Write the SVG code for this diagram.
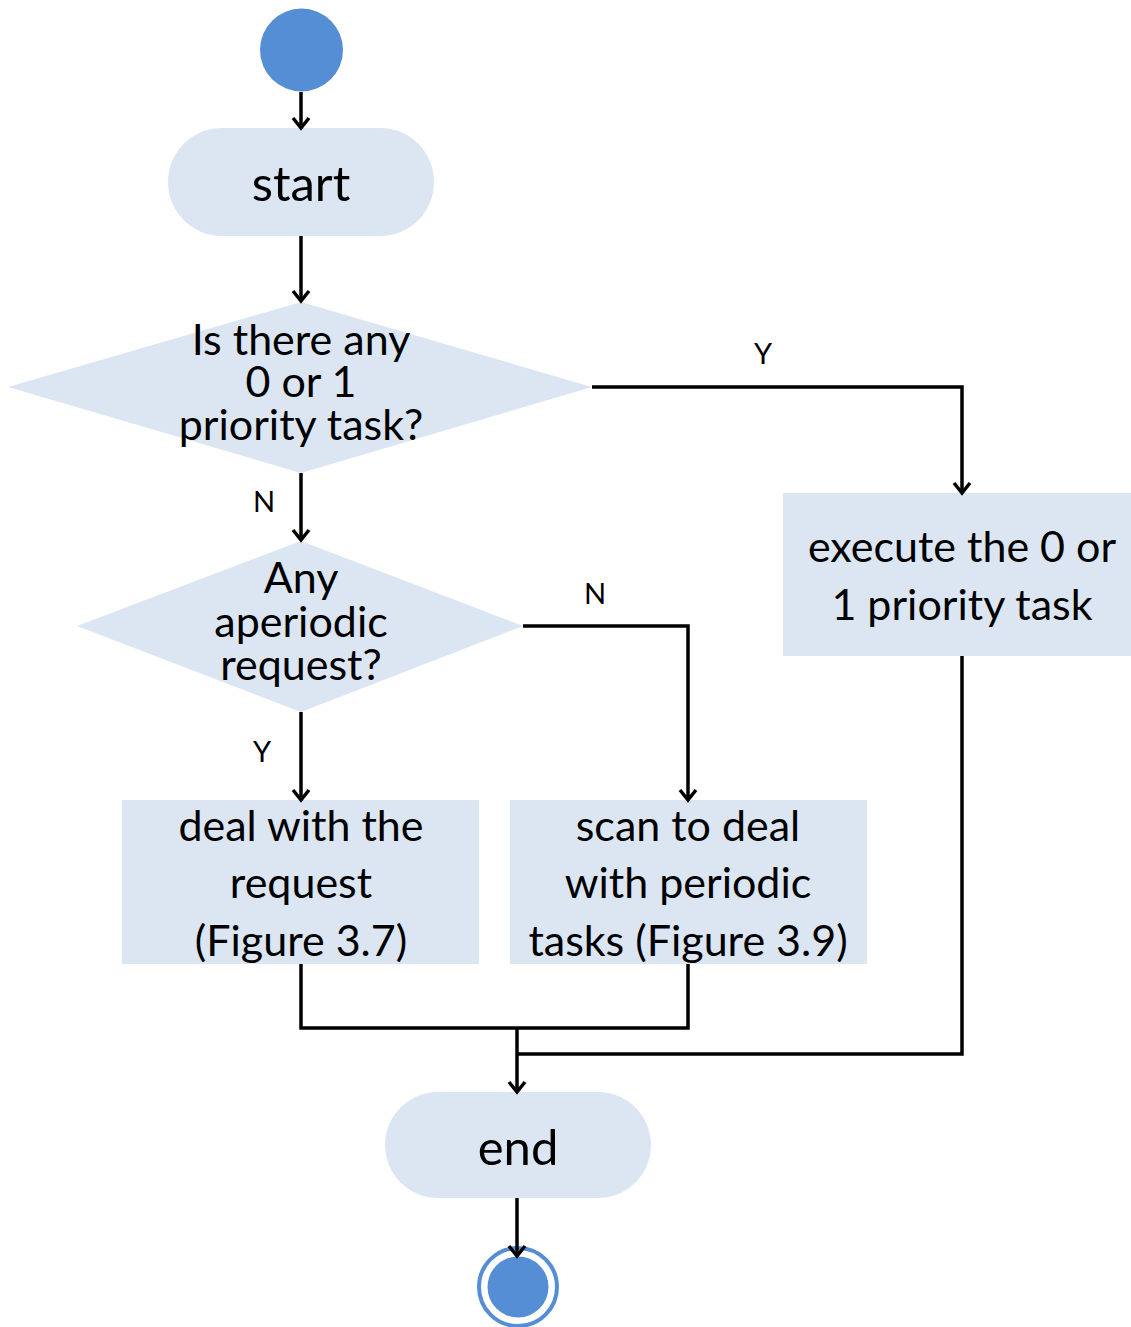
<svg xmlns="http://www.w3.org/2000/svg" width="1131" height="1327" viewBox="0 0 1131 1327">
  <defs>
    <marker id="arrow" viewBox="0 0 20 20" refX="17" refY="10" markerWidth="20" markerHeight="20" markerUnits="userSpaceOnUse" orient="auto">
      <path d="M7,2 L17,10 L7,18" fill="none" stroke="#000" stroke-width="3.5" stroke-linejoin="miter"/>
    </marker>
  </defs>
  <style>
    .shape { fill: #DCE6F2; }
    .dot { fill: #558ED5; }
    .label { font-family: Lato, "Liberation Sans", sans-serif; fill: #000; text-anchor: middle; }
    .big { font-size: 49px; }
    .mid { font-size: 43px; }
    .small { font-size: 29px; }
    .conn { fill: none; stroke: #000; stroke-width: 3.5; }
  </style>

  <rect width="1131" height="1327" fill="#fff"/>

  <!-- initial state -->
  <g id="initial">
    <circle class="dot" cx="301.5" cy="50" r="41.5"/>
  </g>

  <!-- start terminal -->
  <g id="start">
    <rect class="shape" x="168" y="128" width="266" height="108" rx="54" ry="54"/>
    <text class="label big" x="301" y="201">start</text>
  </g>

  <!-- first decision -->
  <g id="decision-priority">
    <polygon class="shape" points="301,302 592,387 301,473 8,387"/>
    <text class="label mid" x="301" y="355">Is there any</text>
    <text class="label mid" x="301" y="397">0 or 1</text>
    <text class="label mid" x="301" y="440">priority task?</text>
  </g>

  <!-- execute priority task -->
  <g id="execute">
    <rect class="shape" x="783" y="493" width="348" height="163"/>
    <text class="label mid" x="962" y="562">execute the 0 or</text>
    <text class="label mid" x="962" y="620">1 priority task</text>
  </g>

  <!-- second decision -->
  <g id="decision-aperiodic">
    <polygon class="shape" points="301,541 523,626 301,712 77,626"/>
    <text class="label mid" x="301" y="593">Any</text>
    <text class="label mid" x="301" y="637">aperiodic</text>
    <text class="label mid" x="301" y="680">request?</text>
  </g>

  <!-- deal with request -->
  <g id="deal">
    <rect class="shape" x="122" y="800" width="357" height="164"/>
    <text class="label mid" x="301" y="841">deal with the</text>
    <text class="label mid" x="301" y="898">request</text>
    <text class="label mid" x="301" y="956">(Figure 3.7)</text>
  </g>

  <!-- scan periodic tasks -->
  <g id="scan">
    <rect class="shape" x="510" y="800" width="357" height="164"/>
    <text class="label mid" x="688" y="841">scan to deal</text>
    <text class="label mid" x="688" y="898">with periodic</text>
    <text class="label mid" x="688" y="956">tasks (Figure 3.9)</text>
  </g>

  <!-- end terminal -->
  <g id="end">
    <rect class="shape" x="385" y="1092" width="266" height="106" rx="53" ry="53"/>
    <text class="label big" x="518" y="1165">end</text>
  </g>

  <!-- final state -->
  <g id="final">
    <circle cx="518" cy="1287" r="39" fill="#fff" stroke="#558ED5" stroke-width="4"/>
    <circle class="dot" cx="518" cy="1287" r="30.5"/>
  </g>

  <!-- connectors -->
  <g id="connectors">
    <path class="conn" d="M301,92 V128" marker-end="url(#arrow)"/>
    <path class="conn" d="M301,236 V301" marker-end="url(#arrow)"/>
    <path class="conn" d="M592,387 H962 V493" marker-end="url(#arrow)"/>
    <path class="conn" d="M301,473 V540" marker-end="url(#arrow)"/>
    <path class="conn" d="M523,626 H688 V800" marker-end="url(#arrow)"/>
    <path class="conn" d="M301,712 V800" marker-end="url(#arrow)"/>
    <path class="conn" d="M301,964 V1028 H688 V964"/>
    <path class="conn" d="M962,656 V1054 H517"/>
    <path class="conn" d="M517,1028 V1092" marker-end="url(#arrow)"/>
    <path class="conn" d="M517,1198 V1256" marker-end="url(#arrow)"/>
    <text class="label small" x="763" y="364">Y</text>
    <text class="label small" x="264" y="512">N</text>
    <text class="label small" x="595" y="604">N</text>
    <text class="label small" x="262" y="762">Y</text>
  </g>
</svg>
